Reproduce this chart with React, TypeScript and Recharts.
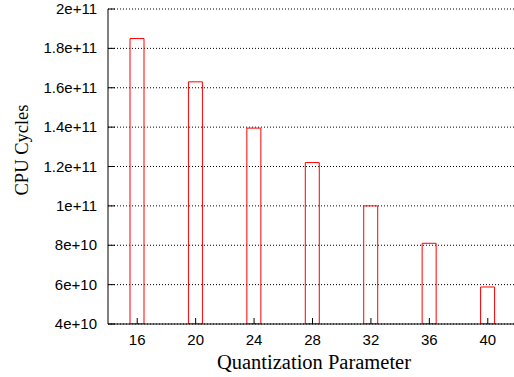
import React from 'react';
import { BarChart, Bar, XAxis, YAxis, CartesianGrid } from 'recharts';

const qpValues = [16, 20, 24, 28, 32, 36, 40];
const cpuCycles = [1.85e11, 1.63e11, 1.395e11, 1.22e11, 1.0e11, 8.1e10, 5.88e10];
const xTicks = [16, 20, 24, 28, 32, 36, 40];
const yTicks = [4e10, 6e10, 8e10, 1e11, 1.2e11, 1.4e11, 1.6e11, 1.8e11, 2e11];
const yTickLabels = ['4e+10', '6e+10', '8e+10', '1e+11', '1.2e+11', '1.4e+11', '1.6e+11', '1.8e+11', '2e+11'];

const data = qpValues.map((qp, i) => ({ qp, cycles: cpuCycles[i] }));

const TICK_FONT = '"Liberation Sans", Arial, sans-serif';
const TITLE_FONT = '"Liberation Serif", "Times New Roman", serif';

const BottomTick = (props: any) => {
  const { x, y, payload } = props;
  return (
    <g>
      <line x1={x} y1={y} x2={x} y2={y - 6} stroke="#000" strokeWidth={1} />
      <text x={x} y={y + 21} textAnchor="middle" fontFamily={TICK_FONT} fontSize={15} fill="#000">
        {payload.value}
      </text>
    </g>
  );
};

const TopTick = (props: any) => {
  const { x, y } = props;
  return <line x1={x} y1={y} x2={x} y2={y + 6} stroke="#000" strokeWidth={1} />;
};

const LeftTick = (props: any) => {
  const { x, y, payload } = props;
  const idx = yTicks.indexOf(payload.value);
  const label = idx >= 0 ? yTickLabels[idx] : String(payload.value);
  return (
    <g>
      <line x1={x} y1={y} x2={x + 7} y2={y} stroke="#000" strokeWidth={1} />
      <text x={x - 11} y={y + 5} textAnchor="end" fontFamily={TICK_FONT} fontSize={15} fill="#000">
        {label}
      </text>
    </g>
  );
};

const XTitle = (props: any) => {
  const vb = props.viewBox;
  return (
    <text x={vb.x + vb.width / 2 + 1.5} y={vb.y + 45} textAnchor="middle" fontFamily={TITLE_FONT} fontSize={20.5} fill="#000">
      Quantization Parameter
    </text>
  );
};

const YTitle = (props: any) => {
  const vb = props.viewBox;
  const cx = vb.x + 20;
  const cy = vb.y + 141;
  return (
    <text x={cx} y={cy} transform={`rotate(-90, ${cx}, ${cy})`} textAnchor="middle" fontFamily={TITLE_FONT} fontSize={18.5} fill="#000">
      CPU Cycles
    </text>
  );
};

export default function App() {
  return (
    <div style={{ position: 'absolute', left: 0, top: 0, width: 514, height: 377, overflow: 'hidden', background: '#fff' }}>
      <BarChart width={517} height={377} data={data} margin={{ top: 9, right: 0, bottom: 0, left: 8 }}>
        <CartesianGrid vertical={false} stroke="#000" strokeDasharray="1 2" />
        <XAxis
          dataKey="qp"
          type="number"
          domain={[14, 42]}
          ticks={xTicks}
          allowDataOverflow
          height={53}
          stroke="#000"
          tickLine={false}
          tickSize={0}
          tickMargin={0}
          tick={<BottomTick />}
          interval={0}
          label={XTitle}
        />
        <XAxis
          xAxisId="top"
          orientation="top"
          dataKey="qp"
          type="number"
          domain={[14, 42]}
          ticks={xTicks}
          allowDataOverflow
          height={0}
          stroke="#000"
          tickLine={false}
          tickSize={0}
          tickMargin={0}
          tick={<TopTick />}
          interval={0}
        />
        <YAxis
          type="number"
          domain={[4e10, 2e11]}
          ticks={yTicks}
          allowDataOverflow
          width={100}
          stroke="#000"
          tickLine={false}
          tickSize={0}
          tickMargin={0}
          tick={<LeftTick />}
          interval={0}
          label={YTitle}
        />
        <Bar dataKey="cycles" barSize={14} fill="none" stroke="#ff0000" strokeWidth={1} isAnimationActive={false} />
      </BarChart>
    </div>
  );
}
